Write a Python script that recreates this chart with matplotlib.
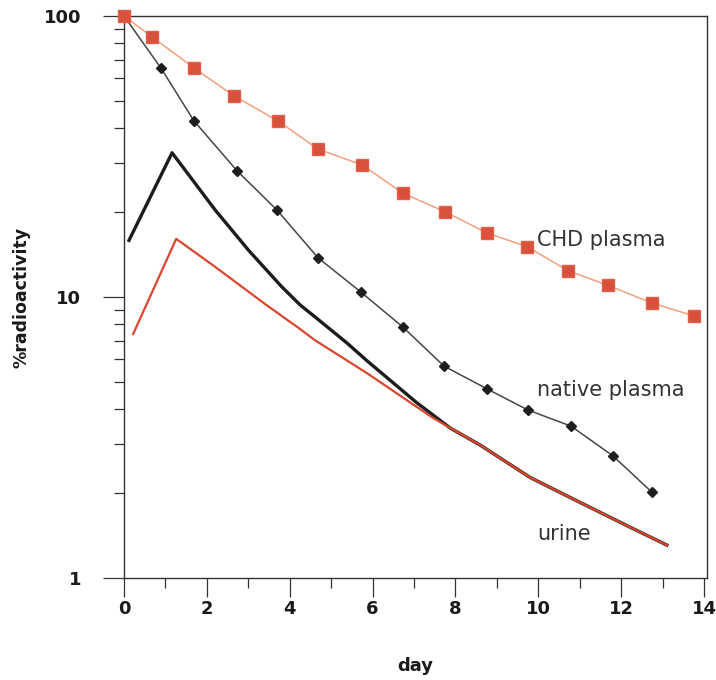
import matplotlib
matplotlib.use("Agg")
import matplotlib.pyplot as plt
from matplotlib.ticker import LogLocator, NullFormatter, MultipleLocator

# values (day, % radioactivity)
chd_day = [0, 0.68, 1.69, 2.66, 3.72, 4.68, 5.75, 6.73, 7.75, 8.76, 9.73, 10.72, 11.68, 12.74, 13.76]
chd_pct = [100, 84.2, 65.3, 51.9, 42.3, 33.6, 29.5, 23.4, 20.1, 16.9, 15.1, 12.4, 11.0, 9.52, 8.56]

native_day = [0, 0.89, 1.69, 2.73, 3.69, 4.68, 5.72, 6.73, 7.72, 8.76, 9.75, 10.79, 11.80, 12.74]
native_pct = [100, 65.3, 42.3, 28.1, 20.4, 13.8, 10.4, 7.82, 5.68, 4.71, 3.96, 3.47, 2.72, 2.02]

urine_blk_day = [0.12, 1.16, 2.2, 3.0, 3.8, 4.25, 4.65, 5.38, 5.87, 7.07, 7.87, 8.6, 9.8, 11.0, 12.2, 13.1]
urine_blk_pct = [15.9, 32.6, 20.4, 14.7, 10.9, 9.37, 8.40, 6.86, 5.92, 4.20, 3.42, 2.97, 2.28, 1.86, 1.52, 1.31]

urine_red_day = [0.22, 1.26, 2.2, 3.4, 4.25, 4.6, 5.87, 7.46, 8.6, 9.8, 11.0, 12.2, 13.1]
urine_red_pct = [7.38, 16.1, 12.8, 9.45, 7.69, 7.03, 5.35, 3.71, 2.97, 2.28, 1.86, 1.52, 1.31]

x_ticks = [0, 2, 4, 6, 8, 10, 12, 14]
y_ticks = [1, 10, 100]
y_tick_labels = ['1', '10', '100']

fig = plt.figure(figsize=(7.16, 6.8), dpi=100)
ax = fig.add_axes([0.1732, 0.15, 0.8142, 0.8265])

# urine curves
ax.plot(urine_blk_day, urine_blk_pct, color='#1c1c1c', lw=2.4, solid_joinstyle='round', zorder=2)
ax.plot(urine_red_day, urine_red_pct, color='#d9472f', lw=1.6, zorder=3)

# native plasma
ax.plot(native_day, native_pct, color='#454545', lw=1.1, marker='D', ms=5.5,
        mfc='#1e1e1e', mec='#1e1e1e', zorder=4)

# CHD plasma
ax.plot(chd_day, chd_pct, color='#f0a07c', lw=1.1, marker='s', ms=9,
        mfc='#d9503d', mec='#e0604a', zorder=5, clip_on=False)

ax.set_yscale('log')
ax.set_xlim(0, 14.07)
ax.set_ylim(1, 100)

ax.set_xticks(x_ticks)
ax.xaxis.set_minor_locator(MultipleLocator(1))
ax.set_yticks(y_ticks)
ax.set_yticklabels(y_tick_labels)
ax.yaxis.set_minor_locator(LogLocator(base=10, subs=range(2, 10)))
ax.yaxis.set_minor_formatter(NullFormatter())

ax.tick_params(axis='x', which='major', direction='out', length=14, width=0.9,
               color='#333333', labelsize=13, pad=2)
ax.tick_params(axis='x', which='minor', direction='out', length=7, width=0.9, color='#333333')
ax.tick_params(axis='y', which='major', direction='out', length=15, width=0.9,
               color='#333333', labelsize=13, pad=16)
ax.tick_params(axis='y', which='minor', direction='out', length=7, width=0.9, color='#333333')
for lab in ax.get_xticklabels() + ax.get_yticklabels():
    lab.set_fontweight('bold')
    lab.set_color('#1a1a1a')

for sp in ax.spines.values():
    sp.set_linewidth(1.0)
    sp.set_color('#333333')

ax.set_xlabel('day', fontsize=13, fontweight='bold', labelpad=28, color='#1a1a1a')
ax.set_ylabel('%radioactivity', fontsize=12.5, fontweight='bold', labelpad=9, color='#1a1a1a',
              family=['Liberation Sans Narrow', 'DejaVu Sans'])

# series labels
ax.text(9.97, 15.9, 'CHD plasma', fontsize=15, color='#333333', va='center', ha='left')
ax.text(9.97, 4.67, 'native plasma', fontsize=15, color='#333333', va='center', ha='left')
ax.text(9.97, 1.43, 'urine', fontsize=15, color='#333333', va='center', ha='left')

fig.savefig('out.png', dpi=100)
